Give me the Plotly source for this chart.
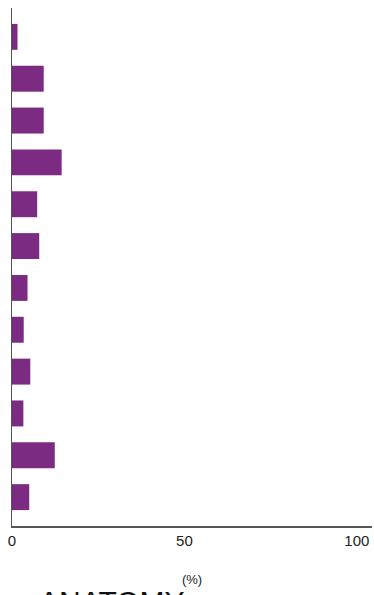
import plotly.graph_objs as go

# bar categories, top to bottom (no labels shown on the chart)
categories = ["1", "2", "3", "4", "5", "6", "7", "8", "9", "10", "11", "12"]
# share per category, in percent
values = [1.6, 9.2, 9.2, 14.4, 7.3, 7.9, 4.5, 3.4, 5.3, 3.3, 12.4, 5.0]
x_ticks = [0, 50, 100]

fig = go.Figure(
    data=[
        go.Bar(
            x=values,
            y=categories,
            orientation="h",
            marker=dict(color="#7b2b82", line=dict(width=0)),
            width=0.62,
        )
    ]
)

fig.update_layout(
    width=374,
    height=595,
    margin=dict(l=12, r=2, t=8, b=69),
    paper_bgcolor="white",
    plot_bgcolor="white",
    showlegend=False,
    font=dict(family="Liberation Sans, Arial, sans-serif", color="#222"),
)

fig.update_xaxes(
    range=[0, 104.4],
    tickvals=x_ticks,
    ticktext=[str(t) for t in x_ticks],
    tickfont=dict(size=15),
    ticklabeloverflow="allow",
    showgrid=False,
    zeroline=False,
    showline=True,
    linecolor="#555",
    linewidth=1.5,
    ticks="",
    ticklabelstandoff=0,
    title=dict(text="(%)", font=dict(size=13), standoff=27),
)

fig.update_yaxes(
    type="category",
    range=[11.69, -0.69],
    showticklabels=False,
    showgrid=False,
    zeroline=False,
    showline=True,
    linecolor="#555",
    linewidth=1.2,
    ticks="",
)

# heading cut off at the bottom edge of the picture
fig.add_annotation(
    text="ANATOMY",
    xref="paper",
    yref="paper",
    x=0.278,
    y=-0.110,
    xanchor="center",
    yanchor="top",
    showarrow=False,
    font=dict(size=30, color="#111"),
)

# drop the page's default body margin so the figure sits at (0, 0)
fig.write_html(
    "out.html",
    config={"displayModeBar": False},
    post_script="document.body.style.margin = '0px';",
)
